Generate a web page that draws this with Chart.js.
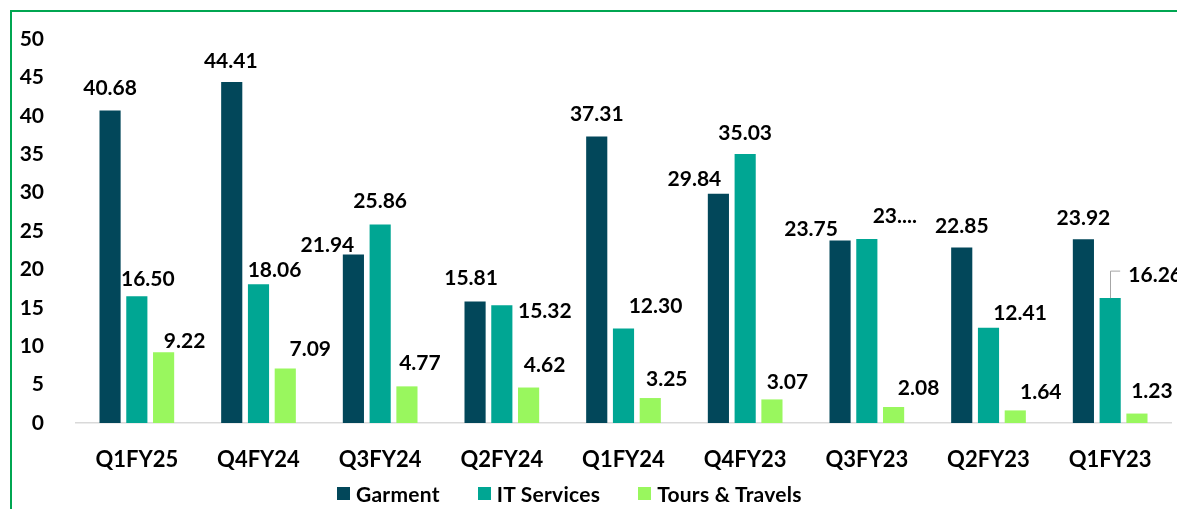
<!DOCTYPE html>
<html>
<head>
<meta charset="utf-8">
<script src="https://cdn.jsdelivr.net/npm/chart.js@4.4.1/dist/chart.umd.min.js"></script>
<style>
  html, body { margin: 0; padding: 0; background: #fff; }
  body { width: 1177px; height: 509px; position: relative; overflow: hidden; font-family: Lato, "Noto Sans", sans-serif; }
  #frame { position: absolute; left: 10px; top: 10px; width: 1200px; height: 600px; border: 2px solid #00A651; box-sizing: border-box; }
  #wrap { position: absolute; left: 0; top: 0; width: 1177px; height: 509px; }
  #legend { position: absolute; top: 481px; left: 337px; display: flex; align-items: center; font-weight: 700; font-size: 21px; color: #000; letter-spacing: 0.25px; }
  #legend .item { display: flex; align-items: center; }
  #legend .box { width: 13px; height: 13px; margin-right: 6px; }
</style>
</head>
<body>
<div id="frame"></div>
<div id="wrap"><canvas id="c" width="1177" height="509"></canvas></div>
<div id="legend"></div>
<script>
// ---- Data ----
const categories = ["Q1FY25", "Q4FY24", "Q3FY24", "Q2FY24", "Q1FY24", "Q4FY23", "Q3FY23", "Q2FY23", "Q1FY23"];
const garment = [40.68, 44.41, 21.94, 15.81, 37.31, 29.84, 23.75, 22.85, 23.92];
const itServices = [16.50, 18.06, 25.86, 15.32, 12.30, 35.03, 23.96, 12.41, 16.26];
const toursTravels = [9.22, 7.09, 4.77, 4.62, 3.25, 3.07, 2.08, 1.64, 1.23];
const seriesNames = ["Garment", "IT Services", "Tours & Travels"];
const yTicks = [0, 5, 10, 15, 20, 25, 30, 35, 40, 45, 50];
// label shown truncated in the original
const labelOverrides = { "1-6": "23...." };

// ---- Styles ----
const colors = ["#02475A", "#00A693", "#99F75E"];
// label placement: [dx from bar centre, dy of text centre from bar top]
const labelOffsets = [
  [[0,-23.5],[-1,-21.5],[-26,-10],[-4,-24],[0,-22.7],[-24,-15.5],[-29,-12],[0,-22.5],[0,-22]],
  [[11,-18],[16,-15],[0,-23.7],[43,5.5],[32,-22.7],[0,-21.5],[28,-23.5],[31.5,-14.7],[45,-24]],
  [[21,-12],[25,-20],[13,-24],[16,-23],[16.5,-20],[15.5,-17.5],[25,-20],[25.5,-19],[15,-23.5]]
];
const leaderLines = { "1-8": true };
const FONT = 'Lato, "Noto Sans", sans-serif';

const labelPlugin = {
  id: 'barLabels',
  afterDatasetsDraw(chart) {
    const ctx = chart.ctx;
    ctx.save();
    ctx.font = 'bold 21px ' + FONT;
    ctx.fillStyle = '#000';
    ctx.textAlign = 'center';
    ctx.textBaseline = 'alphabetic';
    chart.data.datasets.forEach((ds, si) => {
      const meta = chart.getDatasetMeta(si);
      meta.data.forEach((bar, i) => {
        const key = si + '-' + i;
        const txt = labelOverrides[key] || ds.data[i].toFixed(2);
        const off = labelOffsets[si][i];
        const cx = bar.x + off[0];
        const cy = bar.y + off[1];
        if (leaderLines[key]) {
          ctx.save();
          ctx.strokeStyle = '#A6A6A6';
          ctx.lineWidth = 1;
          ctx.beginPath();
          ctx.moveTo(Math.round(bar.x) + 0.5, bar.y);
          ctx.lineTo(Math.round(bar.x) + 0.5, cy - 3);
          ctx.lineTo(bar.x + 10, cy - 3);
          ctx.stroke();
          ctx.restore();
        }
        ctx.fillText(txt, cx, cy + 7.5);
      });
    });
    ctx.restore();
  }
};

new Chart(document.getElementById('c'), {
  type: 'bar',
  data: {
    labels: categories,
    datasets: [
      { label: seriesNames[0], data: garment, backgroundColor: colors[0] },
      { label: seriesNames[1], data: itServices, backgroundColor: colors[1] },
      { label: seriesNames[2], data: toursTravels, backgroundColor: colors[2] }
    ]
  },
  options: {
    responsive: false,
    animation: false,
    events: [],
    datasets: { bar: { categoryPercentage: 0.66, barPercentage: 0.79 } },
    layout: { padding: { top: 39, right: 6, bottom: 0, left: 0 } },
    plugins: { legend: { display: false }, tooltip: { enabled: false } },
    scales: {
      x: {
        grid: { display: false },
        border: { display: true, color: '#D9D9D9', width: 1.5 },
        ticks: { color: '#000', font: { family: FONT, size: 22, weight: 'bold' }, padding: 16, maxRotation: 0 },
        afterFit(s) { s.height = 86; }
      },
      y: {
        min: 0, max: 50,
        afterBuildTicks(s) { s.ticks = yTicks.map(v => ({ value: v })); },
        grid: { display: false },
        border: { display: false },
        ticks: { color: '#000', font: { family: FONT, size: 21, weight: 'bold' }, padding: 24 },
        afterFit(s) { s.width = 76; }
      }
    }
  },
  plugins: [labelPlugin]
});

// HTML legend
const lg = document.getElementById('legend');
seriesNames.forEach((n, i) => {
  const it = document.createElement('div');
  it.className = 'item';
  if (i > 0) it.style.marginLeft = '38px';
  const b = document.createElement('span');
  b.className = 'box';
  b.style.background = colors[i];
  const t = document.createElement('span');
  t.textContent = n;
  it.appendChild(b); it.appendChild(t);
  lg.appendChild(it);
});
</script>
</body>
</html>
